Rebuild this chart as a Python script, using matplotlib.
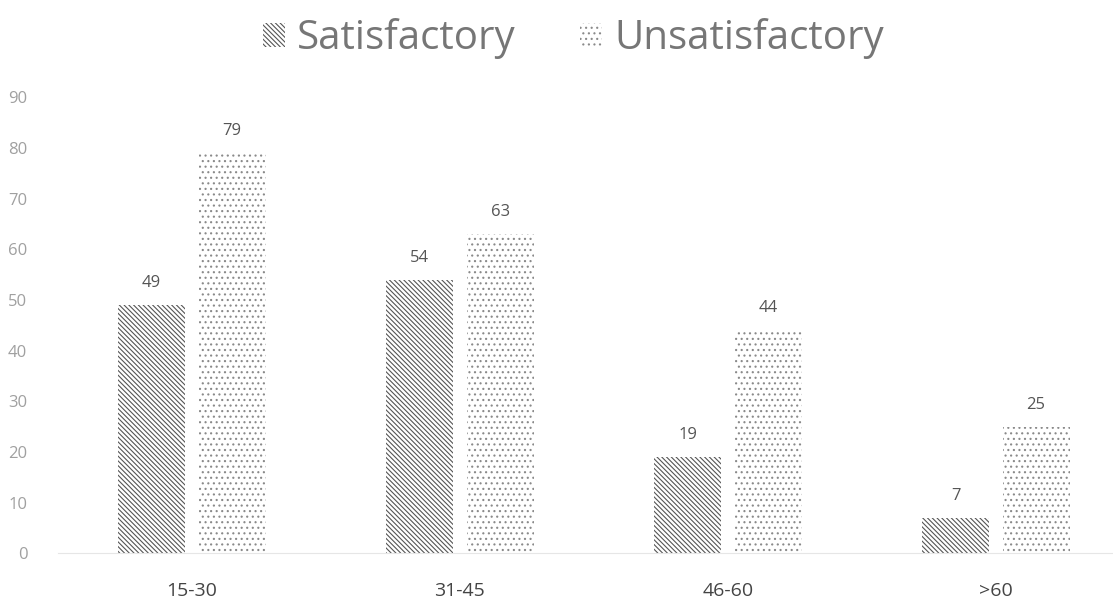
import matplotlib
matplotlib.use("Agg")
import matplotlib.pyplot as plt
import numpy as np

categories = ["15-30", "31-45", "46-60", ">60"]
satisfactory = [49, 54, 19, 7]
unsatisfactory = [79, 63, 44, 25]
y_ticks = [0, 10, 20, 30, 40, 50, 60, 70, 80, 90]

plt.rcParams['font.family'] = ['Open Sans', 'DejaVu Sans']
plt.rcParams['hatch.linewidth'] = 0.8

fig = plt.figure(figsize=(11.13, 6.0), dpi=100)
ax = fig.add_axes([0.052, 0.078, 0.948, 0.76])

x = np.arange(len(categories))
w = 0.25
b1 = ax.bar(x - 0.15, satisfactory, w, color='white', edgecolor='#555555',
            hatch='\\' * 7, linewidth=0, label='Satisfactory')
b2 = ax.bar(x + 0.15, unsatisfactory, w, color='white', edgecolor='#8a8a8a',
            hatch='...', linewidth=0, label='Unsatisfactory')

for bars in (b1, b2):
    ax.bar_label(bars, padding=10, fontsize=12, color='#555555')

ax.set_xlim(-0.5, 3.437)
ax.set_ylim(0, 90)
ax.set_yticks(y_ticks)
ax.set_xticks(x)
ax.set_xticklabels(categories, fontsize=14, color='#444444')
ax.tick_params(axis='y', labelsize=12, labelcolor='#a0a0a0', length=0, pad=22)
ax.tick_params(axis='x', length=0, pad=21)
for s in ['top', 'right', 'left']:
    ax.spines[s].set_visible(False)
ax.spines['bottom'].set_color('#e6e6e6')

fig.legend(handles=[b1, b2], loc='upper center', bbox_to_anchor=(0.515, 1.03),
           ncol=2, frameon=False, fontsize=29, labelcolor='#767676',
           handlelength=0.55, handleheight=0.55, handletextpad=0.3, columnspacing=1.6)

fig.savefig("out.png", dpi=100)
